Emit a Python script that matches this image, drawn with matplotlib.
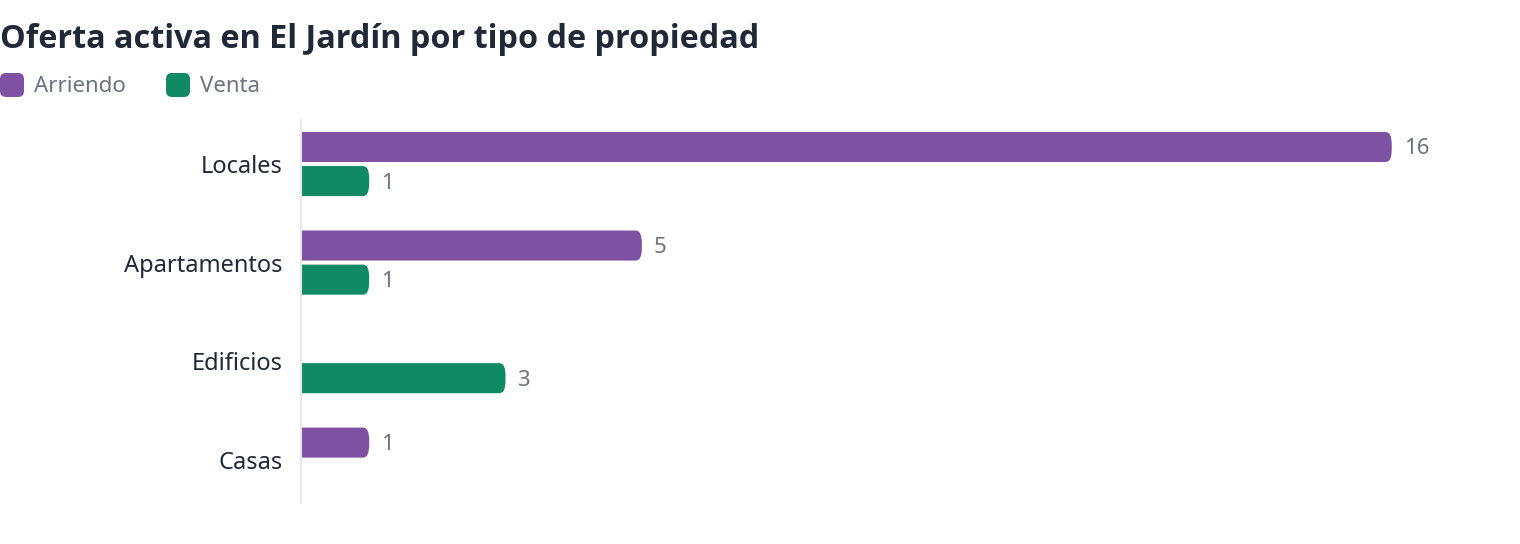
import matplotlib
matplotlib.use("Agg")
import matplotlib.pyplot as plt
from matplotlib.patches import FancyBboxPatch
from matplotlib.transforms import IdentityTransform

categories = ["Locales", "Apartamentos", "Edificios", "Casas"]
arriendo = [16, 5, 0, 1]
venta = [1, 1, 3, 0]
series_names = ["Arriendo", "Venta"]

PURPLE = "#7f51a3"
GREEN = "#108a63"
DARK = "#1f2937"
GRAY = "#6b7280"

W, H, DPI = 1520, 544, 100
plt.rcParams["font.family"] = ["Noto Sans", "DejaVu Sans"]

fig = plt.figure(figsize=(W / DPI, H / DPI), dpi=DPI)
# axes placed in pixel terms: x0=301, top=120, bottom=503
x0, x1, top, bottom = 301, 1494, 120, 503
ax = fig.add_axes([x0 / W, 1 - bottom / H, (x1 - x0) / W, (bottom - top) / H])

xmax = 17.5
ax.set_xlim(0, xmax)
ax.set_ylim(3.44, -0.447)

px_x = (x1 - x0) / xmax
px_y = (bottom - top) / (3.44 + 0.447)
bar_h = 0.305
off = 0.173
r = 6 / px_x
aspect = px_x / px_y

for i, cat in enumerate(categories):
    for val, color, dy in ((arriendo[i], PURPLE, -off), (venta[i], GREEN, off)):
        if val <= 0:
            continue
        y = i + dy
        patch = FancyBboxPatch((-0.3, y - bar_h / 2), val + 0.3, bar_h,
                               boxstyle=f"round,pad=0,rounding_size={r}",
                               mutation_aspect=1 / aspect,
                               facecolor=color, edgecolor="none", zorder=2)
        ax.add_patch(patch)
        ax.text(val + 12 / px_x, y + 2 / px_y, str(val), va="center", ha="left",
                fontsize=16, color=GRAY)

ax.set_yticks(range(len(categories)))
ax.set_yticklabels(categories, fontsize=17, color=DARK)
ax.tick_params(axis="y", length=0, pad=13)
ax.set_xticks([])
for s in ("top", "right", "bottom"):
    ax.spines[s].set_visible(False)
ax.spines["left"].set_color("#e5e7eb")
ax.spines["left"].set_linewidth(1.5)
ax.spines["left"].set_zorder(3)

fig.text(0, 1 - 39 / H, "Oferta activa en El Jardín por tipo de propiedad",
         fontsize=23.3, fontweight="bold", family=["Open Sans", "DejaVu Sans"],
         color=DARK, va="center", ha="left")

# legend
leg_y = 85
for name, color, lx in zip(series_names, (PURPLE, GREEN), (0, 166)):
    sq = FancyBboxPatch((lx, H - leg_y - 12), 24, 24,
                        boxstyle="round,pad=0,rounding_size=6",
                        transform=IdentityTransform(), facecolor=color,
                        edgecolor="none")
    fig.patches.append(sq)
    fig.text((lx + 34) / W, 1 - (leg_y + 2) / H, name, fontsize=16, color=GRAY,
             va="center", ha="left")

fig.savefig("out.png", dpi=DPI)
